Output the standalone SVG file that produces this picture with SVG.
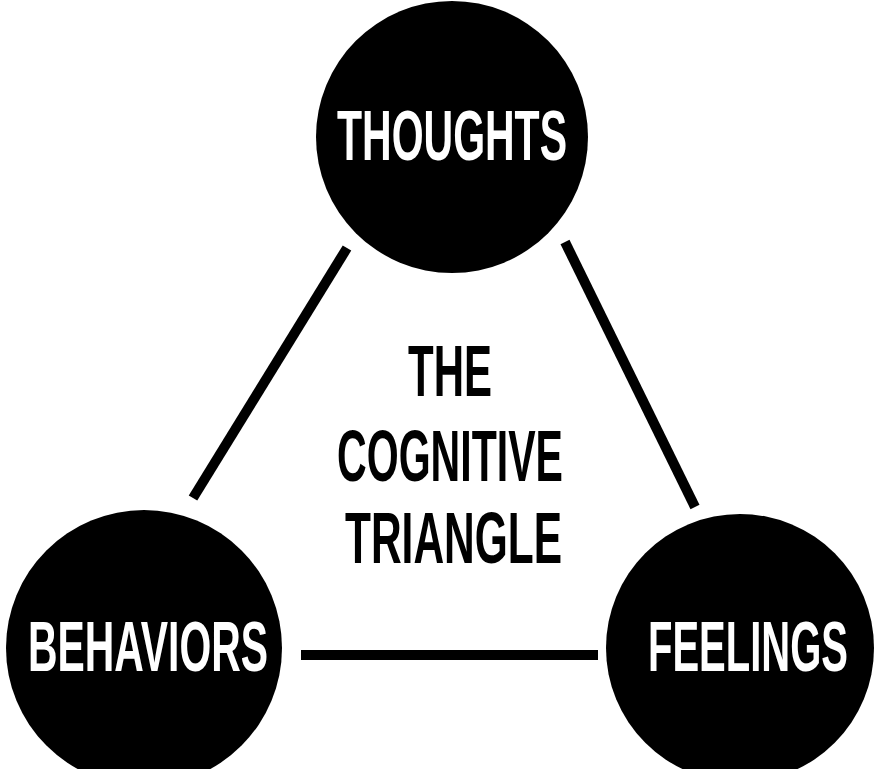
<svg xmlns="http://www.w3.org/2000/svg" width="874" height="769" viewBox="0 0 874 769">
<style>
.node{fill:#000}
.lbl{font-family:"Liberation Sans",Arial,sans-serif;font-weight:bold;font-size:70px;fill:#fff}
.title{font-family:"Liberation Sans",Arial,sans-serif;font-weight:bold;font-size:72px;fill:#000}
.edge{stroke:#000;stroke-width:10;fill:none}
</style>
<rect width="874" height="769" fill="#fff"/>
<g id="connectors">
<line class="edge" x1="347" y1="248" x2="193" y2="498"/>
<line class="edge" x1="565" y1="242" x2="695" y2="507"/>
<line class="edge" x1="301" y1="655" x2="598" y2="655"/>
</g>
<g id="thoughts">
<circle class="node" cx="452" cy="137" r="136"/>
<text class="lbl" x="337" y="160" textLength="230" lengthAdjust="spacingAndGlyphs">THOUGHTS</text>
</g>
<g id="behaviors">
<circle class="node" cx="144" cy="648" r="138"/>
<text class="lbl" x="28" y="671" textLength="240" lengthAdjust="spacingAndGlyphs">BEHAVIORS</text>
</g>
<g id="feelings">
<circle class="node" cx="740" cy="648" r="134"/>
<text class="lbl" x="648" y="671" textLength="200" lengthAdjust="spacingAndGlyphs">FEELINGS</text>
</g>
<g id="title">
<text class="title" x="408" y="396" textLength="84" lengthAdjust="spacingAndGlyphs">THE</text>
<text class="title" x="337" y="481" textLength="226" lengthAdjust="spacingAndGlyphs">COGNITIVE</text>
<text class="title" x="345" y="563" textLength="217" lengthAdjust="spacingAndGlyphs">TRIANGLE</text>
</g>
</svg>
